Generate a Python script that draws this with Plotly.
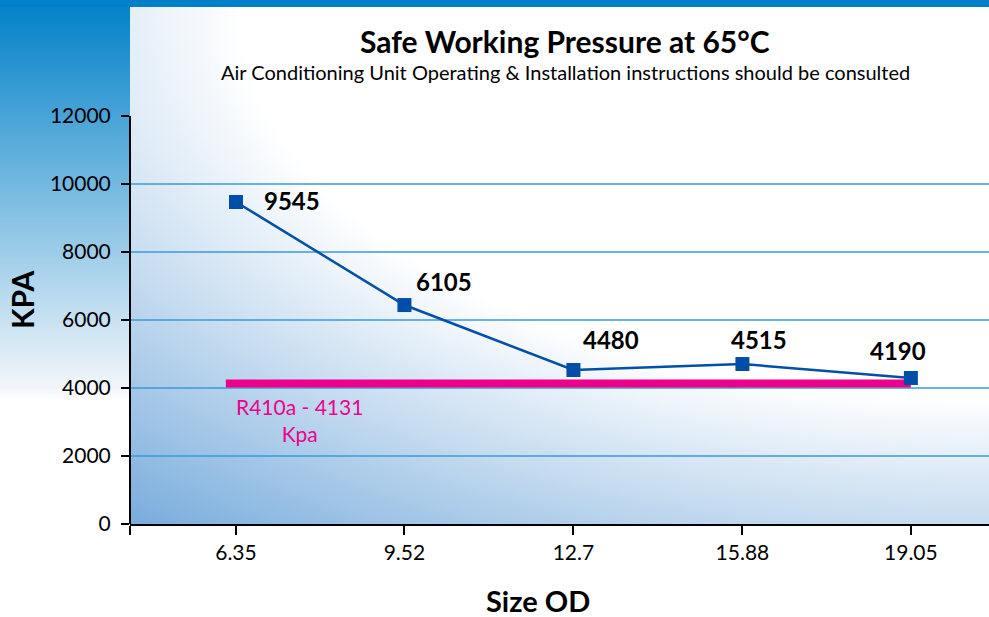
import base64
import plotly.graph_objects as go

# ---- data ----
size_labels = ["6.35", "9.52", "12.7", "15.88", "19.05"]
sizes = [6.35, 9.52, 12.7, 15.88, 19.05]
pressure = [9470, 6440, 4530, 4705, 4295]          # plotted marker heights
pressure_text = ["9545", "6105", "4480", "4515", "4190"]  # printed values
ref_value = 4131
ref_x = [6.16, 19.05]
ref_text = "R410a - 4131<br>Kpa"
y_ticks = [0, 2000, 4000, 6000, 8000, 10000, 12000]
y_tick_text = ["0", "2000", "4000", "6000", "8000", "10000", "12000"]
grid_vals = [2000, 4000, 6000, 8000, 10000]

# ---- layout geometry ----
W, H = 989, 617
ML, MR, MT, MB = 130, 0, 7, 93
PW, PH = W - ML - MR, H - MT - MB
x_range = [4.356, 20.52]
y_range = [0, 15206]

FONT = "Lato"
BLUE = "#0050a8"
PINK = "#ec008c"

# label offsets in pixels (dx, dy up)
label_offsets = [(56, 2), (40, 24), (38, 30), (17, 25), (-13, 27)]

# ---- gradient background as an SVG image ----
svg = f'''<svg xmlns="http://www.w3.org/2000/svg" width="{W}" height="{H}" viewBox="0 0 {W} {H}">
<defs>
<linearGradient id="lb" x1="0" y1="0" x2="0" y2="400" gradientUnits="userSpaceOnUse">
<stop offset="0" stop-color="#0080c8"/>
<stop offset="0.97" stop-color="#f2f6fb"/>
<stop offset="1" stop-color="#ffffff"/>
</linearGradient>
<radialGradient id="pa" gradientUnits="userSpaceOnUse" cx="0" cy="0" r="1"
 gradientTransform="translate({W} {MT}) scale(1311 686)">
<stop offset="0" stop-color="#ffffff"/>
<stop offset="0.571" stop-color="#ffffff"/>
<stop offset="1" stop-color="#78acdc"/>
</radialGradient>
</defs>
<rect x="0" y="0" width="{W}" height="{H}" fill="#ffffff"/>
<rect x="0" y="0" width="{ML}" height="400" fill="url(#lb)"/>
<rect x="0" y="0" width="{W}" height="{MT}" fill="#0080c8"/>
<rect x="{ML}" y="{MT}" width="{PW}" height="{PH}" fill="url(#pa)"/>
</svg>'''
svg_uri = "data:image/svg+xml;base64," + base64.b64encode(svg.encode()).decode()

fig = go.Figure()

# reference line
fig.add_trace(go.Scatter(
    x=ref_x, y=[ref_value, ref_value], mode="lines",
    line=dict(color=PINK, width=8), hoverinfo="skip", showlegend=False))

# main series
fig.add_trace(go.Scatter(
    x=sizes, y=pressure, mode="lines+markers",
    line=dict(color=BLUE, width=2.5),
    marker=dict(symbol="square", size=14, color="#004ea8"),
    showlegend=False))

shapes = []
for g in grid_vals:
    shapes.append(dict(type="line", xref="paper", yref="y", x0=0, x1=1, y0=g, y1=g,
                       line=dict(color="#3a9ad9", width=1.4), layer="below"))
shapes.append(dict(type="line", xref="paper", yref="y", x0=0, x1=0,
                   y0=y_ticks[0], y1=y_ticks[-1], line=dict(color="black", width=2)))


def px_x(p):
    return (p - ML) / PW


def px_y(p):
    return (MT + PH - p) / PH


annotations = []
for x, y, t, (dx, dy) in zip(sizes, pressure, pressure_text, label_offsets):
    annotations.append(dict(x=x, y=y, text=f"<b>{t}</b>", showarrow=False,
                            xshift=dx, yshift=dy, xanchor="center", yanchor="middle",
                            font=dict(family=FONT, size=24, color="black")))
annotations.append(dict(x=ref_x[0], y=ref_value, text=ref_text, showarrow=False,
                        xanchor="center", yanchor="top", xshift=74, yshift=-8,
                        font=dict(family=FONT, size=21, color=PINK)))
annotations.append(dict(xref="paper", yref="paper", x=px_x(565), y=px_y(41),
                        xanchor="center", yanchor="middle",
                        text="<b>Safe Working Pressure at 65°C</b>", showarrow=False,
                        font=dict(family=FONT, size=30, color="black")))
annotations.append(dict(xref="paper", yref="paper", x=px_x(565), y=px_y(72),
                        xanchor="center", yanchor="middle",
                        text="Air Conditioning Unit Operating & Installation instructions should be consulted",
                        showarrow=False, font=dict(family=FONT, size=20, color="black")))
annotations.append(dict(xref="paper", yref="paper", x=px_x(22), y=px_y(300),
                        xanchor="center", yanchor="middle",
                        text="<b>KPA</b>", textangle=-90, showarrow=False,
                        font=dict(family=FONT, size=30, color="black")))
annotations.append(dict(xref="paper", yref="paper", x=px_x(538), y=px_y(600),
                        xanchor="center", yanchor="middle",
                        text="<b>Size OD</b>", showarrow=False,
                        font=dict(family=FONT, size=29, color="black")))

fig.update_layout(
    width=W, height=H,
    margin=dict(l=ML, r=MR, t=MT, b=MB),
    paper_bgcolor="white", plot_bgcolor="rgba(0,0,0,0)",
    shapes=shapes, annotations=annotations,
    images=[dict(source=svg_uri, xref="paper", yref="paper",
                 x=-ML / PW, y=1 + MT / PH, sizex=W / PW, sizey=H / PH,
                 xanchor="left", yanchor="top", sizing="stretch", layer="below")],
    xaxis=dict(range=x_range, tickvals=[x_range[0]] + sizes, ticktext=[""] + size_labels,
               showgrid=False, zeroline=False, showline=True, linecolor="black", linewidth=2,
               ticks="outside", ticklen=9, tickwidth=1.5, tickcolor="black",
               tickfont=dict(family=FONT, size=21, color="black"), fixedrange=True),
    yaxis=dict(range=y_range, tickvals=y_ticks, ticktext=y_tick_text,
               showgrid=False, zeroline=False,
               showline=False, ticks="outside", ticklen=8, tickwidth=1.5, tickcolor="black",
               ticklabelstandoff=6,
               tickfont=dict(family=FONT, size=21, color="black"), fixedrange=True),
)

fig.write_html("out.html", config={"displayModeBar": False},
               post_script="document.body.style.margin='0';document.body.style.padding='0';"
                           "document.body.style.overflow='hidden';")
